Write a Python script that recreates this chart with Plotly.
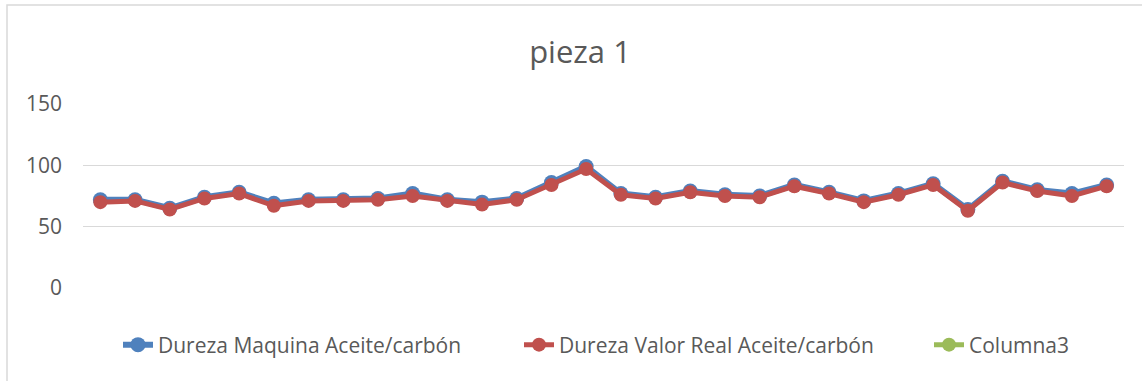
import plotly.graph_objects as go

# Hardness readings per sample for piece 1
muestras = list(range(1, 31))
dureza_maquina = [72, 72, 65, 74, 78, 69, 72, 72, 73, 77, 72, 70, 73, 86, 99,
                  77, 74, 79, 76, 75, 84, 78, 71, 77, 85, 64, 87, 80, 77, 84]
dureza_real = [70, 71, 64, 73, 77, 67, 71, 71, 72, 75, 71, 68, 72, 84, 97,
               76, 73, 78, 75, 74, 83, 77, 70, 76, 84, 63, 86, 79, 75, 83]
columna3 = [None] * len(muestras)

y_ticks = [0, 50, 100, 150]

AZUL = "#4f81bd"
ROJO = "#c0504d"
VERDE = "#9bbb59"
GRIS = "#595959"

W, H = 1142, 381
L, R, T, B = 83, 18, 104, 93
PW = W - L - R
PH = H - T - B


def px_x(px):
    return (px - L) / PW


def px_y(py):
    return (H - B - py) / PH


fig = go.Figure()
fig.add_trace(go.Scatter(
    x=muestras, y=dureza_maquina, name="Dureza Maquina Aceite/carbón",
    mode="lines+markers",
    line=dict(color=AZUL, width=6),
    marker=dict(color=AZUL, size=15),
    legend="legend",
))
fig.add_trace(go.Scatter(
    x=muestras, y=dureza_real, name="Dureza Valor Real Aceite/carbón",
    mode="lines+markers",
    line=dict(color=ROJO, width=5),
    marker=dict(color=ROJO, size=14),
    legend="legend2",
))
fig.add_trace(go.Scatter(
    x=muestras, y=columna3, name="Columna3",
    mode="lines+markers",
    line=dict(color=VERDE, width=5),
    marker=dict(color=VERDE, size=14),
    legend="legend3",
))

leg_common = dict(orientation="h", y=px_y(345), yanchor="middle",
                  xanchor="left", font=dict(size=21, color=GRIS),
                  bgcolor="rgba(0,0,0,0)")

fig.update_layout(
    width=W, height=H,
    margin=dict(l=L, r=R, t=T, b=B),
    paper_bgcolor="white", plot_bgcolor="white",
    font=dict(family="Open Sans, Liberation Sans, sans-serif", color=GRIS),
    title=dict(text="pieza 1", x=580 / W, xanchor="center", y=1 - 52 / H,
               yanchor="middle", font=dict(size=31, color=GRIS)),
    showlegend=True,
    legend=dict(x=px_x(118), **leg_common),
    legend2=dict(x=px_x(519), **leg_common),
    legend3=dict(x=px_x(929), **leg_common),
    xaxis=dict(range=[0.5, 30.5], showgrid=False, showticklabels=False,
               zeroline=False, showline=False, ticks=""),
    yaxis=dict(range=[0, 150], tickvals=y_ticks, showgrid=True,
               gridcolor="#d9d9d9", gridwidth=1, zeroline=False,
               showline=False, tickfont=dict(size=21, color=GRIS),
               ticklabelstandoff=20),
    shapes=[dict(type="rect", xref="paper", yref="paper",
                 x0=px_x(7), x1=1.2, y0=-1, y1=1 + 99 / PH,
                 line=dict(color="#d9d9d9", width=1.5),
                 fillcolor="rgba(0,0,0,0)", layer="below")],
)

fig.write_html("out.html")
